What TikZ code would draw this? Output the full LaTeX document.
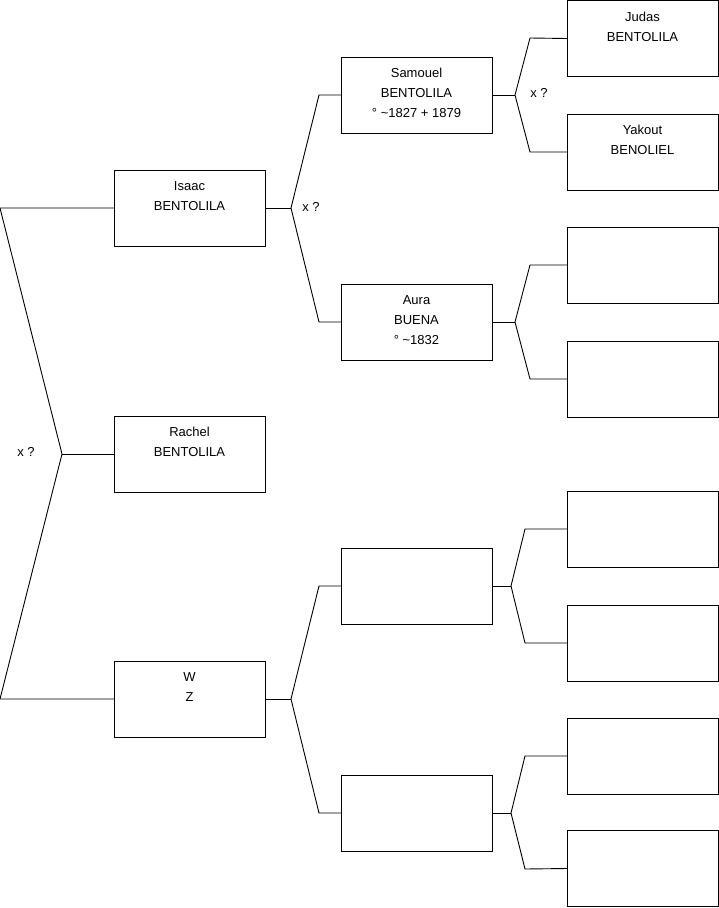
\documentclass[tikz,border=0pt]{standalone}
\usepackage{fontspec}
\setmainfont{Liberation Sans}
\begin{document}
\begin{tikzpicture}[x=1pt,y=-1pt,line width=.9pt,
  box/.style={draw,anchor=north west,minimum width=151pt,minimum height=76pt,inner sep=0pt,outer sep=0pt},
  who/.style={label={[anchor=north,align=center,inner sep=0pt,yshift=-11pt,font=\fontsize{13}{20}\selectfont]north:#1}},
  xq/.style={font=\fontsize{13}{20}\selectfont,inner sep=0pt}]
\useasboundingbox (0,0) rectangle (719,908);
% children
\node[box,who={Isaac\\BENTOLILA}] (isaac) at (114,170) {};
\node[box,who={Rachel\\BENTOLILA}] (rachel) at (114,416) {};
\node[box,who={W\\Z}] (wz) at (114,661) {};
% parents
\node[box,who={Samouel\\BENTOLILA\\° \textasciitilde1827 + 1879}] (samouel) at (341,57) {};
\node[box,who={Aura\\BUENA\\° \textasciitilde1832}] (aura) at (341,284) {};
\node[box] (wzpa) at (341,548) {};
\node[box] (wzma) at (341,775) {};
% grandparents
\node[box,who={Judas\\BENTOLILA}] (judas) at (567,.5) {};
\node[box,who={Yakout\\BENOLIEL}] (yakout) at (567,114) {};
\node[box] (aurapa) at (567,227) {};
\node[box] (aurama) at (567,341) {};
\node[box] (wzpapa) at (567,491) {};
\node[box] (wzpama) at (567,605) {};
\node[box] (wzmapa) at (567,718) {};
\node[box] (wzmama) at (567,830.5) {};
% forks
\coordinate (r0) at (0,208);
\coordinate (r1) at (62,454);
\coordinate (r2) at (0,699);
\draw (isaac.west) -- (r0) -- (r1) -- (r2) -- (wz.west);
\draw (r1) -- (rachel.west);
\node[xq] (xr) at (26,452) {x ?};
\coordinate (i0) at (291,208);
\coordinate (i1) at (319,95);
\coordinate (i2) at (319,322);
\draw (samouel.west) -- (i1) -- (i0) -- (i2) -- (aura.west);
\draw (isaac.east) -- (i0);
\node[xq] (xi) at (311,207) {x ?};
\coordinate (w0) at (291,699);
\coordinate (w1) at (319,586);
\coordinate (w2) at (319,813);
\draw (wzpa.west) -- (w1) -- (w0) -- (w2) -- (wzma.west);
\draw (wz.east) -- (w0);
\coordinate (s0) at (515,95);
\coordinate (s1) at (530,38);
\coordinate (s2) at (530,152);
\draw (judas.west) -- (s1) -- (s0) -- (s2) -- (yakout.west);
\draw (samouel.east) -- (s0);
\node[xq] (xs) at (539,93) {x ?};
\coordinate (a0) at (515,322);
\coordinate (a1) at (530,265);
\coordinate (a2) at (530,379);
\draw (aurapa.west) -- (a1) -- (a0) -- (a2) -- (aurama.west);
\draw (aura.east) -- (a0);
\coordinate (p0) at (511,586);
\coordinate (p1) at (525,529);
\coordinate (p2) at (525,643);
\draw (wzpapa.west) -- (p1) -- (p0) -- (p2) -- (wzpama.west);
\draw (wzpa.east) -- (p0);
\coordinate (m0) at (511,813);
\coordinate (m1) at (525,756);
\coordinate (m2) at (525,869);
\draw (wzmapa.west) -- (m1) -- (m0) -- (m2) -- (wzmama.west);
\draw (wzma.east) -- (m0);
\end{tikzpicture}
\end{document}
